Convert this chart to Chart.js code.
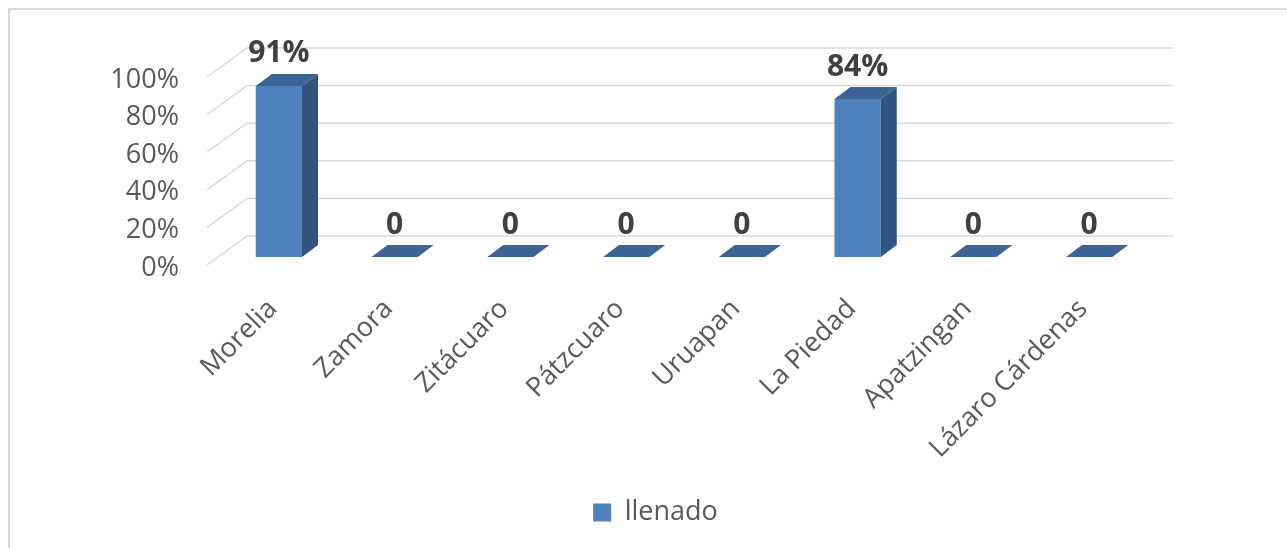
<!DOCTYPE html>
<html>
<head>
<meta charset="utf-8">
<script src="https://cdn.jsdelivr.net/npm/chart.js@4/dist/chart.umd.min.js"></script>
<style>
  html, body { margin: 0; padding: 0; overflow: hidden; background: #fff; }
  #frame { position: absolute; left: 8px; top: 8px; width: 1400px; height: 700px; border: 2px solid #d9d9d9; pointer-events: none; }
  canvas { position: absolute; left: 0; top: 0; }
</style>
</head>
<body>
<canvas id="chart" width="1287" height="548"></canvas>
<div id="frame"></div>
<script>
const cities = ['Morelia', 'Zamora', 'Zitácuaro', 'Pátzcuaro', 'Uruapan', 'La Piedad', 'Apatzingan', 'Lázaro Cárdenas'];
const llenado = [0.91, 0, 0, 0, 0, 0.84, 0, 0];
const yTicks = [0, 0.2, 0.4, 0.6, 0.8, 1];

const FONT = '"Open Sans", "Liberation Sans", sans-serif';
const FRONT = '#4f81bd';
const TOP = '#3c6497';
const SIDE = '#30537f';
const GRID = '#d9d9d9';

// oblique offsets relative to the plane of the bar fronts
const AXIS_DX = -14, AXIS_DY = 8;     // front edge of the floor / value axis
const WALL_DX = 26, WALL_DY = -21;    // back wall
const BAR_DX = 16, BAR_DY = -12;      // bar depth

// legend sits a bit right of the canvas centre
const LEGEND_SHIFT = 82;

function pct(v) {
  return v === 0 ? '0' : Math.round(v * 100) + '%';
}

const bars3d = {
  id: 'bars3d',
  afterLayout(chart) {
    chart.legend.left += LEGEND_SHIFT;
    chart.legend.right += LEGEND_SHIFT;
  },
  beforeDatasetsDraw(chart) {
    const ctx = chart.ctx;
    const y = chart.scales.y;
    const { left, right } = chart.chartArea;
    ctx.save();
    ctx.strokeStyle = GRID;
    ctx.lineWidth = 1.5;
    yTicks.forEach(v => {
      const py = y.getPixelForValue(v);
      ctx.beginPath();
      ctx.moveTo(left + AXIS_DX, py + AXIS_DY);
      ctx.lineTo(left + WALL_DX, py + WALL_DY);
      ctx.lineTo(right + WALL_DX, py + WALL_DY);
      ctx.stroke();
    });
    ctx.restore();
  },
  afterDatasetsDraw(chart) {
    const ctx = chart.ctx;
    const meta = chart.getDatasetMeta(0);
    const data = chart.data.datasets[0].data;
    ctx.save();
    meta.data.forEach((bar, i) => {
      const { x, y, base, width } = bar.getProps(['x', 'y', 'base', 'width'], true);
      const l = x - width / 2, r = x + width / 2;
      // side face
      if (base - y > 0.5) {
        ctx.fillStyle = SIDE;
        ctx.beginPath();
        ctx.moveTo(r, y);
        ctx.lineTo(r + BAR_DX, y + BAR_DY);
        ctx.lineTo(r + BAR_DX, base + BAR_DY);
        ctx.lineTo(r, base);
        ctx.closePath();
        ctx.fill();
      }
      // top face
      ctx.fillStyle = TOP;
      ctx.beginPath();
      ctx.moveTo(l, y);
      ctx.lineTo(r, y);
      ctx.lineTo(r + BAR_DX, y + BAR_DY);
      ctx.lineTo(l + BAR_DX, y + BAR_DY);
      ctx.closePath();
      ctx.fill();
      // value label
      ctx.fillStyle = '#404040';
      ctx.font = 'bold 30px ' + FONT;
      ctx.textAlign = 'center';
      ctx.textBaseline = 'middle';
      ctx.fillText(pct(data[i]), x, y + BAR_DY - 20);
    });
    ctx.restore();
  }
};

new Chart(document.getElementById('chart'), {
  type: 'bar',
  data: {
    labels: cities,
    datasets: [{
      label: 'llenado',
      data: llenado,
      backgroundColor: FRONT,
      borderWidth: 0,
      categoryPercentage: 1,
      barPercentage: 0.4
    }]
  },
  options: {
    responsive: false,
    animation: false,
    devicePixelRatio: 1,
    layout: { padding: { left: 0, right: 140, top: 69, bottom: 12 } },
    scales: {
      x: {
        grid: { display: false },
        border: { display: false },
        ticks: {
          autoSkip: false,
          minRotation: 45,
          maxRotation: 45,
          padding: 28,
          labelOffset: -6,
          color: '#595959',
          font: { family: FONT, size: 27 }
        },
        afterFit: (scale) => { scale.height = 232; }
      },
      y: {
        min: 0,
        max: 1,
        grid: { display: false, drawTicks: false },
        border: { display: false },
        ticks: {
          stepSize: 0.2,
          padding: 42,
          labelOffset: 11,
          color: '#595959',
          font: { family: FONT, size: 27 },
          callback: (v) => Math.round(v * 100) + '%'
        },
        afterFit: (scale) => { scale.width = 221; }
      }
    },
    plugins: {
      legend: {
        position: 'bottom',
        labels: {
          boxWidth: 18,
          boxHeight: 18,
          color: '#595959',
          font: { family: FONT, size: 27 },
          padding: 10
        }
      },
      tooltip: { enabled: false }
    }
  },
  plugins: [bars3d]
});
</script>
</body>
</html>
